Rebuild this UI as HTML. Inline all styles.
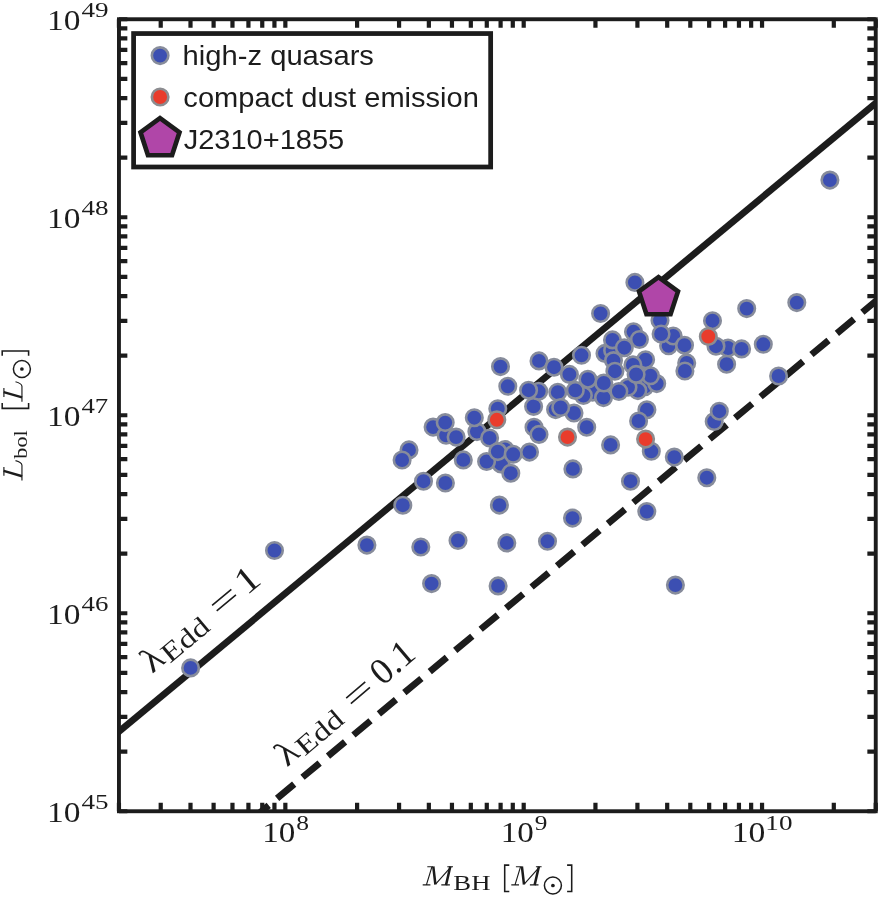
<!DOCTYPE html>
<html><head><meta charset="utf-8"><title>L_bol vs M_BH</title>
<style>html,body{margin:0;padding:0;background:#fff;}svg{display:block;will-change:transform;}</style></head>
<body>
<svg width="883" height="899" viewBox="0 0 883 899">
<rect width="883" height="899" fill="#fff"/>
<defs><clipPath id="pc"><rect x="118.95" y="19.25" width="756.8" height="792.0"/></clipPath></defs>
<g clip-path="url(#pc)" stroke="#1c1c1c" stroke-width="6.7">
<line x1="100" y1="747.40" x2="900" y2="82.84"/>
<line x1="251.65" y1="819.52" x2="900" y2="280.94" stroke-dasharray="22.2 10.88"/>
</g>
<g fill="#3c4fb2" stroke="#878c9b" stroke-width="2.6">
<circle cx="829.9" cy="180.1" r="8.25"/>
<circle cx="190.6" cy="667.9" r="8.25"/>
<circle cx="274.5" cy="550.5" r="8.25"/>
<circle cx="366.9" cy="545.1" r="8.25"/>
<circle cx="431.6" cy="583.6" r="8.25"/>
<circle cx="498.1" cy="585.9" r="8.25"/>
<circle cx="675.4" cy="585.1" r="8.25"/>
<circle cx="420.8" cy="547.0" r="8.25"/>
<circle cx="458.0" cy="540.5" r="8.25"/>
<circle cx="506.8" cy="542.9" r="8.25"/>
<circle cx="547.5" cy="541.3" r="8.25"/>
<circle cx="572.5" cy="518.1" r="8.25"/>
<circle cx="646.8" cy="511.5" r="8.25"/>
<circle cx="402.8" cy="505.2" r="8.25"/>
<circle cx="499.4" cy="505.1" r="8.25"/>
<circle cx="706.8" cy="477.7" r="8.25"/>
<circle cx="630.5" cy="481.2" r="8.25"/>
<circle cx="572.9" cy="468.9" r="8.25"/>
<circle cx="423.5" cy="481.2" r="8.25"/>
<circle cx="445.4" cy="483.0" r="8.25"/>
<circle cx="409.0" cy="449.9" r="8.25"/>
<circle cx="402.1" cy="460.0" r="8.25"/>
<circle cx="433.1" cy="427.1" r="8.25"/>
<circle cx="446.1" cy="435.3" r="8.25"/>
<circle cx="445.2" cy="422.6" r="8.25"/>
<circle cx="456.1" cy="437.1" r="8.25"/>
<circle cx="463.3" cy="459.9" r="8.25"/>
<circle cx="476.9" cy="431.6" r="8.25"/>
<circle cx="474.3" cy="417.7" r="8.25"/>
<circle cx="489.6" cy="438.0" r="8.25"/>
<circle cx="497.8" cy="408.7" r="8.25"/>
<circle cx="500.5" cy="366.6" r="8.25"/>
<circle cx="507.8" cy="386.3" r="8.25"/>
<circle cx="505.0" cy="449.5" r="8.25"/>
<circle cx="501.0" cy="463.9" r="8.25"/>
<circle cx="486.6" cy="461.5" r="8.25"/>
<circle cx="497.8" cy="451.6" r="8.25"/>
<circle cx="513.2" cy="454.3" r="8.25"/>
<circle cx="510.8" cy="473.2" r="8.25"/>
<circle cx="529.5" cy="452.1" r="8.25"/>
<circle cx="534.0" cy="427.2" r="8.25"/>
<circle cx="539.0" cy="434.4" r="8.25"/>
<circle cx="533.6" cy="406.4" r="8.25"/>
<circle cx="538.7" cy="391.3" r="8.25"/>
<circle cx="528.6" cy="390.2" r="8.25"/>
<circle cx="539.0" cy="360.9" r="8.25"/>
<circle cx="554.0" cy="367.2" r="8.25"/>
<circle cx="569.4" cy="374.4" r="8.25"/>
<circle cx="581.5" cy="355.3" r="8.25"/>
<circle cx="557.8" cy="392.2" r="8.25"/>
<circle cx="555.6" cy="409.6" r="8.25"/>
<circle cx="574.0" cy="413.0" r="8.25"/>
<circle cx="560.7" cy="407.5" r="8.25"/>
<circle cx="592.5" cy="392.1" r="8.25"/>
<circle cx="583.4" cy="395.5" r="8.25"/>
<circle cx="575.3" cy="390.4" r="8.25"/>
<circle cx="587.9" cy="379.2" r="8.25"/>
<circle cx="586.7" cy="427.2" r="8.25"/>
<circle cx="610.6" cy="444.9" r="8.25"/>
<circle cx="600.6" cy="313.5" r="8.25"/>
<circle cx="634.9" cy="282.4" r="8.25"/>
<circle cx="633.5" cy="331.8" r="8.25"/>
<circle cx="639.4" cy="339.5" r="8.25"/>
<circle cx="605.0" cy="353.4" r="8.25"/>
<circle cx="612.6" cy="350.4" r="8.25"/>
<circle cx="612.5" cy="339.9" r="8.25"/>
<circle cx="624.3" cy="347.7" r="8.25"/>
<circle cx="613.5" cy="360.6" r="8.25"/>
<circle cx="645.6" cy="359.7" r="8.25"/>
<circle cx="632.9" cy="364.9" r="8.25"/>
<circle cx="614.9" cy="371.2" r="8.25"/>
<circle cx="644.8" cy="386.7" r="8.25"/>
<circle cx="637.9" cy="390.6" r="8.25"/>
<circle cx="628.0" cy="387.3" r="8.25"/>
<circle cx="656.7" cy="383.6" r="8.25"/>
<circle cx="650.5" cy="375.8" r="8.25"/>
<circle cx="636.1" cy="374.4" r="8.25"/>
<circle cx="603.5" cy="397.6" r="8.25"/>
<circle cx="603.8" cy="383.0" r="8.25"/>
<circle cx="618.9" cy="391.5" r="8.25"/>
<circle cx="646.9" cy="409.8" r="8.25"/>
<circle cx="638.6" cy="421.0" r="8.25"/>
<circle cx="651.3" cy="451.3" r="8.25"/>
<circle cx="674.3" cy="457.1" r="8.25"/>
<circle cx="660.0" cy="320.5" r="8.25"/>
<circle cx="668.6" cy="345.8" r="8.25"/>
<circle cx="673.2" cy="336.0" r="8.25"/>
<circle cx="661.1" cy="334.0" r="8.25"/>
<circle cx="684.5" cy="345.2" r="8.25"/>
<circle cx="686.7" cy="362.9" r="8.25"/>
<circle cx="684.9" cy="371.0" r="8.25"/>
<circle cx="712.5" cy="320.7" r="8.25"/>
<circle cx="746.7" cy="308.6" r="8.25"/>
<circle cx="796.8" cy="302.6" r="8.25"/>
<circle cx="763.3" cy="344.3" r="8.25"/>
<circle cx="728.0" cy="348.0" r="8.25"/>
<circle cx="716.0" cy="346.2" r="8.25"/>
<circle cx="741.6" cy="348.9" r="8.25"/>
<circle cx="726.6" cy="364.2" r="8.25"/>
<circle cx="778.6" cy="376.0" r="8.25"/>
<circle cx="714.2" cy="421.5" r="8.25"/>
<circle cx="719.3" cy="411.2" r="8.25"/>
</g>
<g fill="#e93c2c" stroke="#8c8c90" stroke-width="2.6">
<circle cx="496.8" cy="419.8" r="8.25"/>
<circle cx="567.5" cy="437.1" r="8.25"/>
<circle cx="645.6" cy="439.1" r="8.25"/>
<circle cx="708.3" cy="336.5" r="8.25"/>
</g>
<polygon points="658.50,277.20 678.00,291.37 670.55,314.28 646.45,314.28 639.00,291.37" fill="#b046a8" stroke="#1c1c1c" stroke-width="4.65"/>
<rect x="118.95" y="19.25" width="756.8" height="792.0" fill="none" stroke="#1c1c1c" stroke-width="3.9"/>
<path d="M118.95 811.25v-8.4M118.95 19.25v8.4M160.72 811.25v-8.4M160.72 19.25v8.4M190.50 811.25v-8.4M190.50 19.25v8.4M213.60 811.25v-8.4M213.60 19.25v8.4M232.47 811.25v-8.4M232.47 19.25v8.4M248.43 811.25v-8.4M248.43 19.25v8.4M262.25 811.25v-8.4M262.25 19.25v8.4M274.44 811.25v-8.4M274.44 19.25v8.4M285.35 811.25v-8.4M285.35 19.25v8.4M357.10 811.25v-8.4M357.10 19.25v8.4M399.07 811.25v-8.4M399.07 19.25v8.4M428.85 811.25v-8.4M428.85 19.25v8.4M451.95 811.25v-8.4M451.95 19.25v8.4M470.82 811.25v-8.4M470.82 19.25v8.4M486.78 811.25v-8.4M486.78 19.25v8.4M500.60 811.25v-8.4M500.60 19.25v8.4M512.79 811.25v-8.4M512.79 19.25v8.4M523.70 811.25v-8.4M523.70 19.25v8.4M595.45 811.25v-8.4M595.45 19.25v8.4M637.42 811.25v-8.4M637.42 19.25v8.4M667.20 811.25v-8.4M667.20 19.25v8.4M690.30 811.25v-8.4M690.30 19.25v8.4M709.17 811.25v-8.4M709.17 19.25v8.4M725.13 811.25v-8.4M725.13 19.25v8.4M738.95 811.25v-8.4M738.95 19.25v8.4M751.14 811.25v-8.4M751.14 19.25v8.4M762.05 811.25v-8.4M762.05 19.25v8.4M833.80 811.25v-8.4M833.80 19.25v8.4M875.75 811.25v-8.4M875.75 19.25v8.4M118.95 811.25h8.4M875.75 811.25h-8.4M118.95 751.65h8.4M875.75 751.65h-8.4M118.95 716.78h8.4M875.75 716.78h-8.4M118.95 692.04h8.4M875.75 692.04h-8.4M118.95 672.85h8.4M875.75 672.85h-8.4M118.95 657.18h8.4M875.75 657.18h-8.4M118.95 643.92h8.4M875.75 643.92h-8.4M118.95 632.44h8.4M875.75 632.44h-8.4M118.95 622.31h8.4M875.75 622.31h-8.4M118.95 613.25h8.4M875.75 613.25h-8.4M118.95 553.65h8.4M875.75 553.65h-8.4M118.95 518.78h8.4M875.75 518.78h-8.4M118.95 494.04h8.4M875.75 494.04h-8.4M118.95 474.85h8.4M875.75 474.85h-8.4M118.95 459.18h8.4M875.75 459.18h-8.4M118.95 445.92h8.4M875.75 445.92h-8.4M118.95 434.44h8.4M875.75 434.44h-8.4M118.95 424.31h8.4M875.75 424.31h-8.4M118.95 415.25h8.4M875.75 415.25h-8.4M118.95 355.65h8.4M875.75 355.65h-8.4M118.95 320.78h8.4M875.75 320.78h-8.4M118.95 296.04h8.4M875.75 296.04h-8.4M118.95 276.85h8.4M875.75 276.85h-8.4M118.95 261.18h8.4M875.75 261.18h-8.4M118.95 247.92h8.4M875.75 247.92h-8.4M118.95 236.44h8.4M875.75 236.44h-8.4M118.95 226.31h8.4M875.75 226.31h-8.4M118.95 217.25h8.4M875.75 217.25h-8.4M118.95 157.65h8.4M875.75 157.65h-8.4M118.95 122.78h8.4M875.75 122.78h-8.4M118.95 98.04h8.4M875.75 98.04h-8.4M118.95 78.85h8.4M875.75 78.85h-8.4M118.95 63.18h8.4M875.75 63.18h-8.4M118.95 49.92h8.4M875.75 49.92h-8.4M118.95 38.44h8.4M875.75 38.44h-8.4M118.95 28.31h8.4M875.75 28.31h-8.4M118.95 19.25h8.4M875.75 19.25h-8.4" stroke="#1c1c1c" stroke-width="4.2" fill="none"/>
<rect x="133.6" y="33.55" width="357.04999999999995" height="133.45" fill="#fff" stroke="#1c1c1c" stroke-width="4.75"/>
<circle cx="160.1" cy="55.6" r="8.25" fill="#3c4fb2" stroke="#878c9b" stroke-width="2.6"/>
<circle cx="160.1" cy="97.0" r="8.25" fill="#e93c2c" stroke="#8c8c90" stroke-width="2.6"/>
<polygon points="160.00,118.15 179.50,132.32 172.05,155.23 147.95,155.23 140.50,132.32" fill="#b046a8" stroke="#1c1c1c" stroke-width="4.65"/>
<g font-family="Liberation Sans, sans-serif" font-size="28.7" fill="#1c1c1c">
<text x="182.58" y="65.40" font-size="28.5" textLength="191.38" lengthAdjust="spacingAndGlyphs">high-z quasars</text>
<text x="183.37" y="107.30" font-size="28.5" textLength="295.52" lengthAdjust="spacingAndGlyphs">compact dust emission</text>
<text x="183.65" y="148.50" font-size="28.5" textLength="160.57" lengthAdjust="spacingAndGlyphs">J2310+1855</text>
</g>
<g font-family="Liberation Serif, serif" fill="#1c1c1c">
<text x="47.06" y="821.85" font-size="29.4" textLength="33.41" lengthAdjust="spacingAndGlyphs">10</text>
<text x="81.47" y="808.75" font-size="20.4" textLength="27.09" lengthAdjust="spacingAndGlyphs">45</text>
<text x="47.06" y="623.85" font-size="29.4" textLength="33.41" lengthAdjust="spacingAndGlyphs">10</text>
<text x="81.48" y="610.75" font-size="20.4" textLength="26.82" lengthAdjust="spacingAndGlyphs">46</text>
<text x="47.06" y="425.85" font-size="29.4" textLength="33.41" lengthAdjust="spacingAndGlyphs">10</text>
<text x="81.48" y="412.75" font-size="20.4" textLength="26.80" lengthAdjust="spacingAndGlyphs">47</text>
<text x="47.06" y="227.85" font-size="29.4" textLength="33.41" lengthAdjust="spacingAndGlyphs">10</text>
<text x="81.47" y="214.75" font-size="20.4" textLength="27.06" lengthAdjust="spacingAndGlyphs">48</text>
<text x="47.06" y="29.85" font-size="29.4" textLength="33.41" lengthAdjust="spacingAndGlyphs">10</text>
<text x="81.47" y="16.75" font-size="20.4" textLength="27.14" lengthAdjust="spacingAndGlyphs">49</text>
<text x="262.34" y="842.30" font-size="29.4" textLength="33.07" lengthAdjust="spacingAndGlyphs">10</text>
<text x="296.18" y="829.80" font-size="20.4" textLength="12.74" lengthAdjust="spacingAndGlyphs">8</text>
<text x="500.69" y="842.30" font-size="29.4" textLength="33.07" lengthAdjust="spacingAndGlyphs">10</text>
<text x="534.68" y="829.80" font-size="20.4" textLength="12.65" lengthAdjust="spacingAndGlyphs">9</text>
<text x="731.69" y="842.30" font-size="29.4" textLength="33.64" lengthAdjust="spacingAndGlyphs">10</text>
<text x="765.37" y="829.80" font-size="20.4" textLength="27.12" lengthAdjust="spacingAndGlyphs">10</text>
<path d="M422.70 884.85L430.40 884.85M426.40 884.80L431.90 866.80M427.30 866.75L433.10 866.75M435.60 884.20L451.00 866.90M447.30 866.75L453.00 866.75M441.30 884.85L449.90 884.85" stroke="#1c1c1c" stroke-width="1.15" fill="none"/><path d="M433.30 866.50L435.40 884.50M450.30 866.50L446.00 885.10" stroke="#1c1c1c" stroke-width="2.5" fill="none"/>
<text x="453.33" y="890.20" font-size="20.0" textLength="37.15" lengthAdjust="spacingAndGlyphs">BH</text>
<path d="M509.30 865.10H504.70V891.50H509.30" stroke="#1c1c1c" stroke-width="1.55" fill="none"/>
<path d="M511.30 884.85L519.00 884.85M515.00 884.80L520.50 866.80M515.90 866.75L521.70 866.75M524.20 884.20L539.60 866.90M535.90 866.75L541.60 866.75M529.90 884.85L538.50 884.85" stroke="#1c1c1c" stroke-width="1.15" fill="none"/><path d="M521.90 866.50L524.00 884.50M538.90 866.50L534.60 885.10" stroke="#1c1c1c" stroke-width="2.5" fill="none"/>
<circle cx="552.9" cy="885.5" r="8.5" fill="none" stroke="#1c1c1c" stroke-width="1.5"/><circle cx="552.9" cy="885.5" r="1.85" fill="#1c1c1c"/>
<path d="M567.10 865.10H571.70V891.50H567.10" stroke="#1c1c1c" stroke-width="1.55" fill="none"/>
<g transform="translate(22.5,480.8) rotate(-90)">
<path d="M0.30 -0.55L15.60 -0.55Q18.60 -0.80 20.20 -7.00M5.00 -18.60L13.90 -18.60" stroke="#1c1c1c" stroke-width="1.15" fill="none"/><path d="M9.90 -18.80L4.60 -0.40" stroke="#1c1c1c" stroke-width="2.5" fill="none"/>
<text x="22.10" y="4.50" font-size="19.8" textLength="28.34" lengthAdjust="spacingAndGlyphs">bol</text>
<path d="M77.80 -20.30H72.40V6.10H77.80" stroke="#1c1c1c" stroke-width="1.55" fill="none"/>
<path d="M79.10 -0.55L94.40 -0.55Q97.40 -0.80 99.00 -7.00M83.80 -18.60L92.70 -18.60" stroke="#1c1c1c" stroke-width="1.15" fill="none"/><path d="M88.70 -18.80L83.40 -0.40" stroke="#1c1c1c" stroke-width="2.5" fill="none"/>
<circle cx="111.8" cy="-0.6" r="8.5" fill="none" stroke="#1c1c1c" stroke-width="1.5"/><circle cx="111.8" cy="-0.6" r="1.85" fill="#1c1c1c"/>
<path d="M125.00 -20.30H129.70V6.10H125.00" stroke="#1c1c1c" stroke-width="1.55" fill="none"/>
</g>
<g transform="translate(153.8,672.8) rotate(-39.7)">
<text x="-2.02" y="0.00" font-size="35.5" textLength="18.83" lengthAdjust="spacingAndGlyphs">λ</text>
<text x="18.34" y="3.40" font-size="27" textLength="53.87" lengthAdjust="spacingAndGlyphs">Edd</text>
<path d="M87.9 -7.4h25M87.9 -14.6h25" stroke="#1c1c1c" stroke-width="1.6"/>
<text x="120.81" y="0.00" font-size="37" textLength="21.02" lengthAdjust="spacingAndGlyphs">1</text>
</g>
<g transform="translate(288.6,766.1) rotate(-40.3)">
<text x="-2.02" y="0.00" font-size="35.5" textLength="18.83" lengthAdjust="spacingAndGlyphs">λ</text>
<text x="18.34" y="3.40" font-size="27" textLength="53.87" lengthAdjust="spacingAndGlyphs">Edd</text>
<path d="M87.9 -7.4h25M87.9 -14.6h25" stroke="#1c1c1c" stroke-width="1.6"/>
<text x="123.09" y="0.00" font-size="37" textLength="46.12" lengthAdjust="spacingAndGlyphs">0.1</text>
</g>
</g>
</svg>
</body></html>
